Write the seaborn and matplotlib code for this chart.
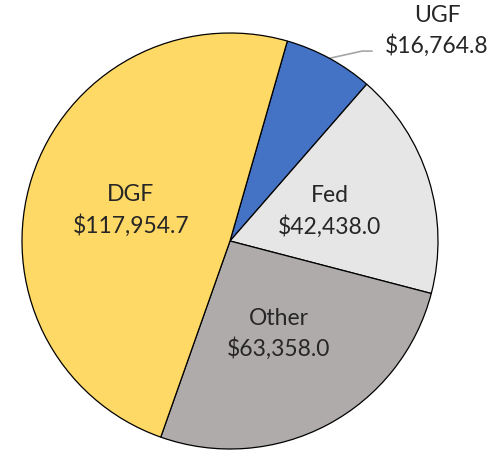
import matplotlib
matplotlib.use("Agg")
import matplotlib.pyplot as plt
import seaborn as sns
import numpy as np

sns.set_theme(style="white")
plt.rcParams['font.family'] = ['Lato', 'DejaVu Sans']

categories = ["UGF", "Fed", "Other", "DGF"]
values = [16764.8, 42438.0, 63358.0, 117954.7]
colors = ["#4472C4", "#E7E6E6", "#AFABAB", "#FFD966"]

fig = plt.figure(figsize=(5.04, 4.52), dpi=100)
ax = fig.add_axes([22/504, 2/452, 416/504, 416/452])

labels = [f"{c}\n${v:,.1f}" for c, v in zip(categories, values)]
wedges, texts = ax.pie(values, colors=colors, startangle=74, counterclock=False,
                       labels=labels, labeldistance=0.5,
                       wedgeprops=dict(edgecolor="black", linewidth=0.9),
                       textprops=dict(fontsize=16.5, color="#262626", ha="center",
                                      va="center", linespacing=1.45))
for t in texts:
    t.set_horizontalalignment("center")

# UGF label outside with leader line
w = wedges[0]
mid = np.deg2rad((w.theta1 + w.theta2) / 2)
p0 = (np.cos(mid), np.sin(mid))
texts[0].set_position((0.995, 1.014))
ax.plot([p0[0], 0.635, 0.683], [p0[1], 0.913, 0.913], color="#A6A6A6", lw=1.2,
        clip_on=False, zorder=0.5)

ax.set_xlim(-1, 1)
ax.set_ylim(-1, 1)
ax.set_aspect("equal")
fig.savefig("out.png", dpi=100)
